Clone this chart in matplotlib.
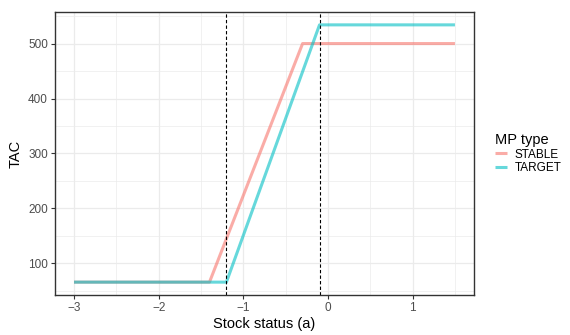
import numpy as np
import matplotlib.pyplot as plt
from matplotlib.ticker import MultipleLocator

plt.rcParams['font.family'] = ['Liberation Sans', 'DejaVu Sans']

# Datos
stable_a = [-3.0, -1.4, -0.3, 1.5]
stable_tac = [66, 66, 500, 500]
target_a = [-3.0, -1.2, -0.1, 1.5]
target_tac = [66, 66, 534, 534]
vlines_a = [-1.2, -0.1]
series = ['STABLE', 'TARGET']
colors = ['#F8766D', '#00BFC4']


def plot_tac():
    fig = plt.figure(figsize=(5.7, 3.35), dpi=100)
    ax = fig.add_axes([55 / 570, 40 / 335, 419 / 570, 283 / 335])

    for xs, ys, lab, col in zip([stable_a, target_a], [stable_tac, target_tac], series, colors):
        ax.plot(xs, ys, color=col, alpha=0.6, lw=2.2, label=lab, solid_capstyle='butt')
    for v in vlines_a:
        ax.axvline(v, color='black', lw=0.8, ls=(0, (3, 2)))

    xmin, xmax = -3.0, 1.5
    ymin, ymax = 66, 534
    dx = (xmax - xmin) * 0.05
    dy = (ymax - ymin) * 0.05
    ax.set_xlim(xmin - dx, xmax + dx)
    ax.set_ylim(ymin - dy, ymax + dy)

    ax.xaxis.set_minor_locator(MultipleLocator(0.5))
    ax.yaxis.set_minor_locator(MultipleLocator(50))
    ax.set_xticks([-3, -2, -1, 0, 1])
    ax.set_xticklabels(['\u22123', '\u22122', '\u22121', '0', '1'])
    ax.set_yticks([100, 200, 300, 400, 500])

    ax.grid(which='major', color='#EBEBEB', lw=0.9)
    ax.grid(which='minor', color='#EBEBEB', lw=0.5)
    ax.set_axisbelow(True)
    for s in ax.spines.values():
        s.set_color('#333333')
        s.set_linewidth(1.0)
    ax.tick_params(which='major', length=3, color='#333333', labelsize=8.5, labelcolor='#4D4D4D', pad=2)
    ax.tick_params(which='minor', length=0)

    ax.set_xlabel('Stock status (a)', fontsize=10.5, labelpad=2)
    ax.set_ylabel('TAC', fontsize=10.5, labelpad=4)

    leg = ax.legend(title='MP type', loc='center left', bbox_to_anchor=(1.04, 0.5),
                    frameon=False, fontsize=8.5, title_fontsize=10.5, handlelength=1.0,
                    handletextpad=0.6, labelspacing=0.1, borderaxespad=0)
    leg._legend_box.align = 'left'

    fig.savefig('out.png', dpi=100)


if __name__ == "__main__":
    plot_tac()
